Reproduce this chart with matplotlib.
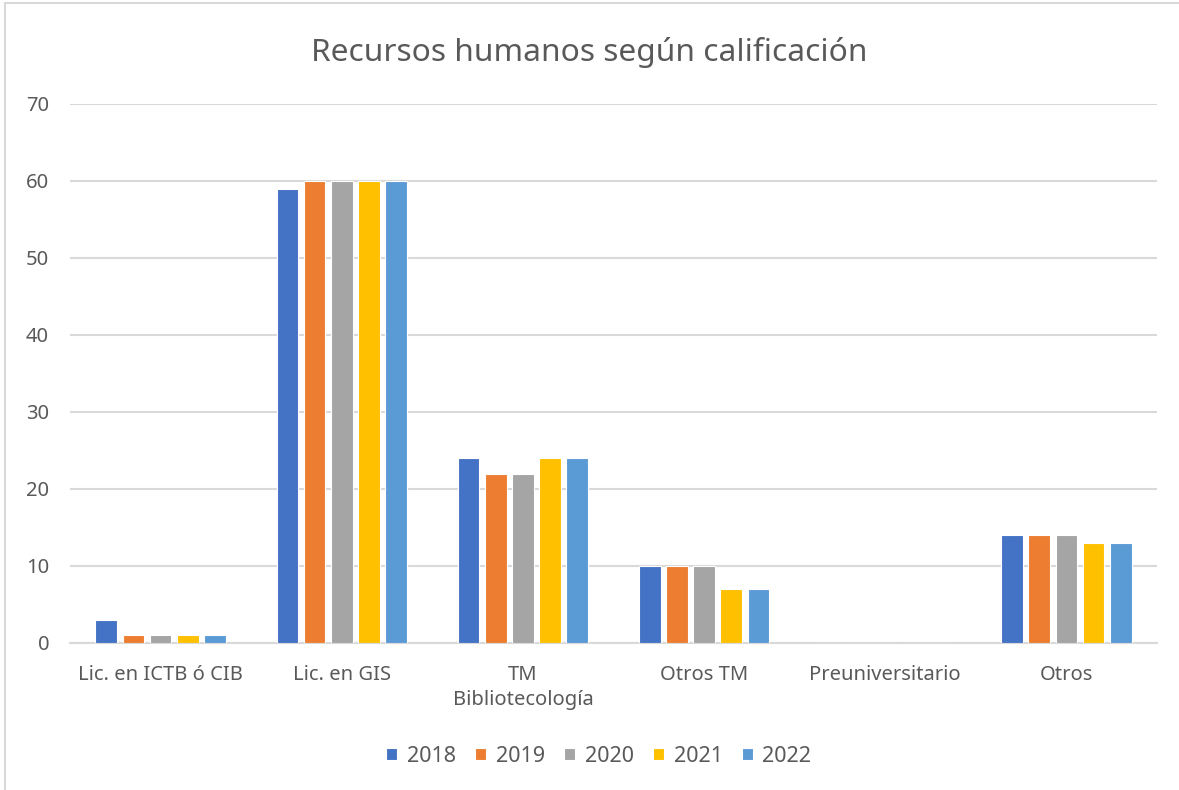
import numpy as np
import matplotlib.pyplot as plt
from matplotlib.lines import Line2D

# datos
categorias = ['Lic. en ICTB ó CIB', 'Lic. en GIS', 'TM\nBibliotecología', 'Otros TM', 'Preuniversitario', 'Otros']
anios = ['2018', '2019', '2020', '2021', '2022']
v2018 = [3, 59, 24, 10, 0, 14]
v2019 = [1, 60, 22, 10, 0, 14]
v2020 = [1, 60, 22, 10, 0, 14]
v2021 = [1, 60, 24, 7, 0, 13]
v2022 = [1, 60, 24, 7, 0, 13]
series = [v2018, v2019, v2020, v2021, v2022]
colores = ['#4472C4', '#ED7D31', '#A5A5A5', '#FFC000', '#5B9BD5']

plt.rcParams['font.family'] = ['Noto Sans', 'DejaVu Sans']

fig = plt.figure(figsize=(11.79, 7.90), dpi=100)
ax = fig.add_axes([0.0594, 0.1861, 0.9219, 0.6823])

x = np.arange(len(categorias))
paso = 0.15
ancho = 0.12
for i, (vals, c, a) in enumerate(zip(series, colores, anios)):
    ax.bar(x + (i - 2) * paso, vals, width=ancho, color=c, label=a,
           edgecolor='white', linewidth=0.8, zorder=3)

ax.set_xlim(-0.5, len(categorias) - 0.5)
ax.set_ylim(0, 70)
ax.set_yticks(range(0, 71, 10))
ax.yaxis.grid(True, color='#D9D9D9', linewidth=1.5, zorder=0)
ax.set_xticks(x)
ax.set_xticklabels(categorias, fontsize=14.5, color='#595959', linespacing=1.35)
ax.tick_params(axis='y', labelsize=14.5, labelcolor='#595959', length=0, pad=15)
ax.tick_params(axis='x', length=0, pad=16)
for s in ['top', 'right', 'left']:
    ax.spines[s].set_visible(False)
ax.spines['bottom'].set_color('#D9D9D9')
ax.spines['bottom'].set_linewidth(1.5)

fig.text(0.5, 0.934, 'Recursos humanos según calificación', ha='center', va='center',
         fontsize=22.8, color='#595959')

ax.legend(loc='center', bbox_to_anchor=(0.508, 0.043), bbox_transform=fig.transFigure,
          ncol=5, frameon=False, fontsize=15.5, labelcolor='#595959',
          handlelength=0.5, handleheight=0.5, handletextpad=0.45, columnspacing=0.9)

# borde del área del gráfico
fig.add_artist(Line2D([5 / 1179, 5 / 1179], [0, 1 - 3 / 790], color='#D9D9D9', lw=1.5))
fig.add_artist(Line2D([5 / 1179, 1], [1 - 3 / 790, 1 - 3 / 790], color='#D9D9D9', lw=1.5))

fig.savefig('out.png', dpi=100)
